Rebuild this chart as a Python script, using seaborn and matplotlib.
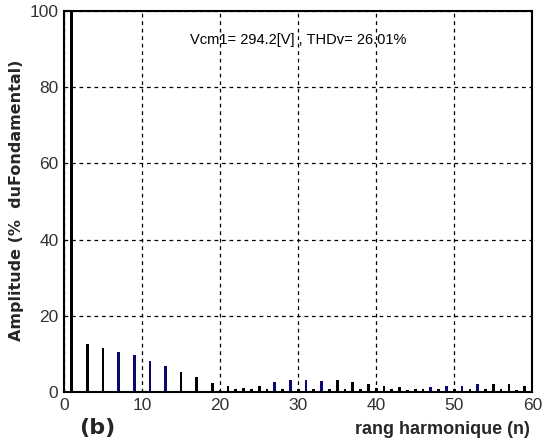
import numpy as np
import pandas as pd
import matplotlib
matplotlib.use("Agg")
import matplotlib.pyplot as plt
import seaborn as sns

# rangs harmoniques et amplitudes (% du fondamental)
rang = list(range(1, 60))
amplitude = [
    100, 0.3, 12.5, 0.3, 11.6, 0.3, 10.6, 0.3, 9.6, 0.4,      # 1-10
    8.1, 0.3, 6.9, 0.3, 5.3, 0.3, 3.9, 0.3, 2.5, 0.5,         # 11-20
    1.7, 0.9, 1.0, 0.8, 1.7, 0.7, 2.6, 0.8, 3.1, 0.9,         # 21-30
    3.1, 0.8, 2.9, 0.8, 3.1, 0.7, 2.6, 0.7, 2.2, 1.0,         # 31-40
    1.7, 0.9, 1.3, 0.6, 0.9, 0.7, 1.3, 0.9, 1.7, 0.8,         # 41-50
    1.7, 0.9, 2.2, 0.9, 2.2, 0.7, 2.2, 0.6, 1.7,              # 51-59
]
# harmoniques dessinés en bleu foncé
rangs_bleus = [7, 9, 11, 13, 27, 29, 31, 33, 47, 49, 51, 53]

titre = "Vcm1= 294.2[V] , THDv= 26.01%"
xlabel = "rang harmonique (n)"
ylabel = "Amplitude (%  duFondamental)"

df = pd.DataFrame({"rang": rang, "amp": amplitude})
df["couleur"] = np.where(df["rang"].isin(rangs_bleus), "bleu", "noir")

sns.set_style("white")
narrow = ["Liberation Sans", "DejaVu Sans"]

fig = plt.figure(figsize=(5.49, 4.45), dpi=100)
ax = fig.add_axes([0.1166, 0.119, 0.853, 0.856])

sns.barplot(data=df, x="rang", y="amp", hue="couleur", native_scale=True,
            dodge=False, width=0.35, palette={"noir": "black", "bleu": "#0a0a6e"},
            legend=False, ax=ax, linewidth=0, saturation=1)

ax.set_xlim(0, 60)
ax.set_ylim(0, 100)
ax.set_xticks(range(0, 61, 10))
ax.set_yticks(range(0, 101, 20))
ax.grid(True, color="black", linestyle=(0, (3, 3)), linewidth=0.9)
ax.set_axisbelow(True)
for s in ax.spines.values():
    s.set_color("black")
    s.set_linewidth(1.5)
ax.tick_params(direction="in", length=4, color="black",
               labelcolor="#333333", pad=4)
for lab in ax.get_xticklabels() + ax.get_yticklabels():
    lab.set_family(narrow)
    lab.set_fontsize(12.5)

ax.set_xlabel("")
ax.set_ylabel("")
fig.text(0.965, 0.015, xlabel, ha="right", va="bottom", fontsize=13,
         family=narrow, fontweight="bold")
fig.text(0.03, 0.55, ylabel, rotation=90, ha="center", va="center",
         fontsize=11.5, fontweight="bold", family=["DejaVu Sans"])
fig.text(0.145, 0.015, "(b)", ha="left", va="bottom", fontsize=16,
         fontweight="bold", family=["DejaVu Sans"])
ax.text(0.5, 0.925, titre, transform=ax.transAxes, ha="center", va="center",
        fontsize=10.5, family=narrow, color="black")

fig.savefig("out.png", dpi=100)
